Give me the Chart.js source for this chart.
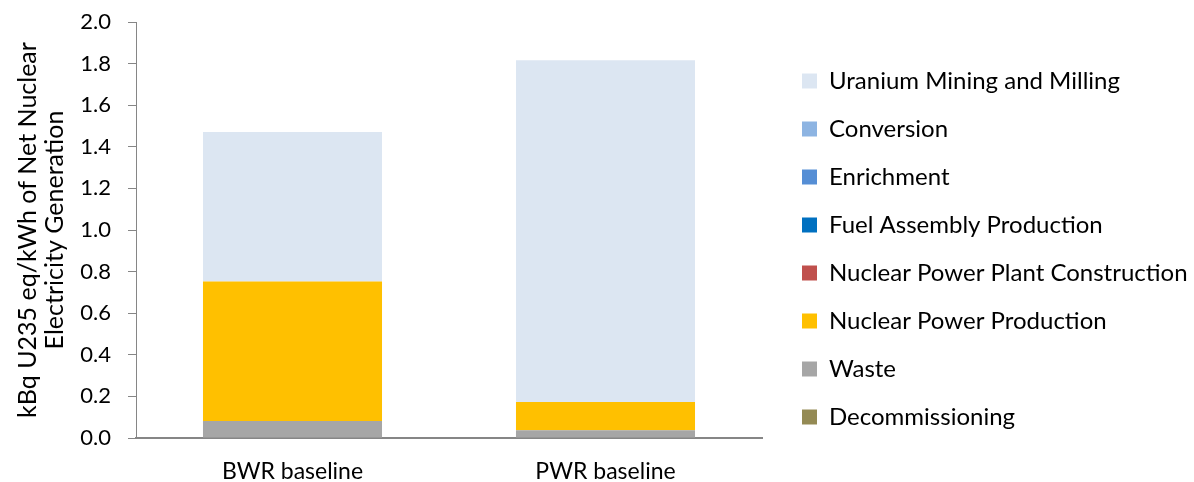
<!DOCTYPE html>
<html>
<head>
<meta charset="utf-8">
<script src="https://cdn.jsdelivr.net/npm/chart.js@4"></script>
<style>
    html, body { margin: 0; padding: 0; background: #fff; }
    #wrap { width: 1194px; height: 482px; }
</style>
</head>
<body>
<div id="wrap"><canvas id="impactChart"></canvas></div>
<script>
// categories on the x axis
const categories = ["BWR baseline", "PWR baseline"];

// life cycle stages, bottom of the stack first
const stages = [
    "Decommissioning",
    "Waste",
    "Nuclear Power Production",
    "Nuclear Power Plant Construction",
    "Fuel Assembly Production",
    "Enrichment",
    "Conversion",
    "Uranium Mining and Milling"
];
const stageColors = [
    "#948A54",
    "#A6A6A6",
    "#FFC000",
    "#C0504D",
    "#0070C0",
    "#558ED5",
    "#8DB4E2",
    "#DCE6F2"
];

// kBq U235 eq/kWh per stage, [BWR, PWR]
// (stages with no visible segment are read as 0)
const decommissioning = [0, 0];
const waste = [0.082, 0.037];
const powerProduction = [0.671, 0.136];
const plantConstruction = [0, 0];
const fuelAssembly = [0, 0];
const enrichment = [0, 0];
const conversion = [0, 0];
const uraniumMining = [0.718, 1.643];

const yTicks = [0, 0.2, 0.4, 0.6, 0.8, 1.0, 1.2, 1.4, 1.6, 1.8, 2.0];

const stageValues = [
    decommissioning,
    waste,
    powerProduction,
    plantConstruction,
    fuelAssembly,
    enrichment,
    conversion,
    uraniumMining
];

const FONT = "Lato";
const axisGrey = "#868686";

const datasets = stages.map((name, i) => ({
    label: name,
    data: stageValues[i],
    backgroundColor: stageColors[i],
    borderWidth: 0,
    categoryPercentage: 1.0,
    barPercentage: 0.572
}));

// pin the legend to the right block like the spreadsheet layout
const legendPlacer = {
    id: "legendPlacer",
    beforeInit(chart) {
        const legend = chart.legend;
        const origFit = legend.fit;
        legend.fit = function () {
            origFit.call(this);
            if (!this.isHorizontal()) this.width = 432;
        };
    },
    afterLayout(chart) {
        const legend = chart.legend;
        legend.left += 16;
        legend.right += 16;
        legend.top += 8;
        legend.bottom += 8;
    }
};

const ctx = document.getElementById("impactChart").getContext("2d");

new Chart(ctx, {
    type: "bar",
    data: {
        labels: categories,
        datasets: datasets
    },
    plugins: [legendPlacer],
    options: {
        responsive: true,
        maintainAspectRatio: false,
        animation: false,
        layout: { padding: 0 },
        plugins: {
            tooltip: { enabled: false },
            legend: {
                position: "right",
                reverse: true,
                labels: {
                    boxWidth: 15,
                    boxHeight: 15,
                    padding: 24,
                    color: "#000",
                    font: { family: FONT, size: 24 }
                }
            }
        },
        scales: {
            x: {
                stacked: true,
                afterFit(scale) { scale.height = 44; },
                grid: { display: false },
                border: { display: true, color: axisGrey, width: 2 },
                ticks: {
                    color: "#000",
                    padding: 12,
                    font: { family: FONT, size: 23 }
                }
            },
            y: {
                stacked: true,
                min: 0,
                max: 2.0,
                afterFit(scale) {
                    scale.width = 136;
                    scale.paddingTop = 22;
                },
                afterBuildTicks(scale) {
                    scale.ticks = yTicks.map(v => ({ value: v }));
                },
                grid: {
                    drawOnChartArea: false,
                    drawTicks: true,
                    tickLength: 8,
                    color: axisGrey,
                    lineWidth: 1
                },
                border: { display: true, color: axisGrey, width: 1 },
                ticks: {
                    color: "#000",
                    padding: 17,
                    font: { family: FONT, size: 22 },
                    callback: v => Number(v).toFixed(1)
                },
                title: {
                    display: true,
                    text: ["kBq U235 eq/kWh of Net Nuclear", "Electricity Generation"],
                    color: "#000",
                    padding: { top: 14, bottom: 0 },
                    font: { family: FONT, size: 25, lineHeight: 1.08 }
                }
            }
        }
    }
});
</script>
</body>
</html>
